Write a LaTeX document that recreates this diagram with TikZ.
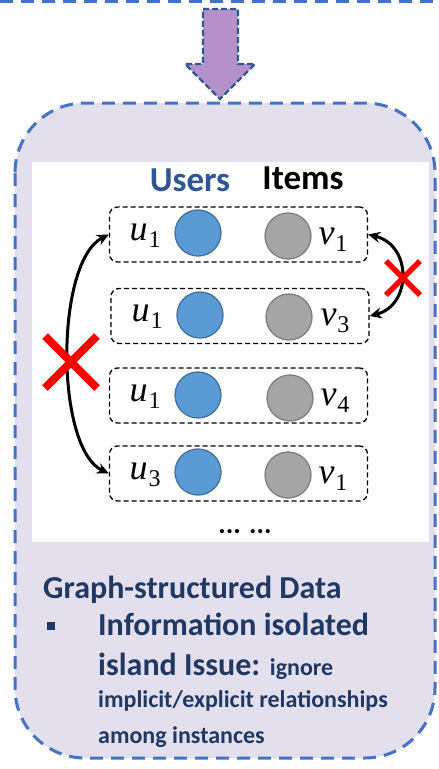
\documentclass[tikz,border=0pt]{standalone}
\usepackage{fontspec}
\setmainfont{Carlito}
\newfontfamily\varfont{Liberation Serif}
\usetikzlibrary{arrows.meta,calc}
\definecolor{lav}{HTML}{E4DFEC}
\definecolor{frameblue}{HTML}{4472C4}
\definecolor{darkblue}{HTML}{2F5597}
\definecolor{navy}{HTML}{203864}
\definecolor{arrowfill}{HTML}{B491C8}
\definecolor{ublue}{HTML}{5B9BD5}
\definecolor{ublueline}{HTML}{41719C}
\definecolor{igray}{HTML}{A5A5A5}
\definecolor{igrayline}{HTML}{7F7F7F}
% italic variable with a lowered index
\newcommand{\var}[2]{{\varfont\itshape #1}\kern1pt\raisebox{-7pt}{\varfont\fontsize{24}{24}\selectfont #2}}
\tikzset{
  framedash/.style={draw=frameblue, line width=3pt, dash pattern=on 13pt off 8pt},
  rowbox/.style={draw=black, line width=1.3pt, dash pattern=on 5pt off 3pt,
    rounded corners=8pt, minimum width=258pt, minimum height=55pt, inner sep=0pt},
  ucirc/.style={circle, fill=ublue, draw=ublueline, line width=1.3pt,
    minimum size=46pt, inner sep=0pt},
  icirc/.style={circle, fill=igray, draw=igrayline, line width=1.3pt,
    minimum size=46pt, inner sep=0pt},
  mlabel/.style={anchor=base, inner sep=0pt, font=\fontsize{36}{40}\selectfont},
  link/.style={line width=3pt, {Stealth[length=12pt,width=11pt]}-{Stealth[length=12pt,width=11pt]}},
  nolink/.style={draw=red, line width=#1},
  bigtext/.style={anchor=base west, inner sep=0pt, text=navy, font=\fontsize{32}{38}\selectfont\bfseries},
  smalltext/.style={anchor=base west, inner sep=0pt, text=navy, font=\fontsize{24}{29}\selectfont\bfseries},
}
\begin{document}
\begin{tikzpicture}[x=1pt,y=-1pt]
\useasboundingbox (0,0) rectangle (439,769);

% upper frame edge
\draw[framedash] (0,1) -- (439,1);

% downward arrow
\filldraw[fill=arrowfill, draw=darkblue, line width=2.2pt, dash pattern=on 6pt off 3pt, line join=miter]
  (203,9) -- (238,9) -- (238,64) -- (255,64) -- (220,99) -- (185,64) -- (203,64) -- cycle;

% panel
\draw[framedash, fill=lav, rounded corners=70pt] (15,103) rectangle (435,758);
\fill[white] (32,162) rectangle (429,542);

% column headings
\node[anchor=base, inner sep=0pt, text=darkblue, font=\fontsize{35}{40}\selectfont\bfseries] (users) at (190,191) {Users};
\node[anchor=base, inner sep=0pt, text=black, font=\fontsize{35}{40}\selectfont\bfseries] (items) at (303,189) {Items};

% user-item pairs
\node[rowbox] (r1) at (238.5,234.5) {};
\node[rowbox] (r2) at (240,316) {};
\node[rowbox] (r3) at (238.5,395.5) {};
\node[rowbox] (r4) at (238.5,473.5) {};

\node[ucirc] (c1u) at (198,233) {};
\node[icirc] (c1i) at (288,236) {};
\node[ucirc] (c2u) at (200,315) {};
\node[icirc] (c2i) at (289,317) {};
\node[ucirc] (c3u) at (198,395) {};
\node[icirc] (c3i) at (290,398) {};
\node[ucirc] (c4u) at (198,472) {};
\node[icirc] (c4i) at (288,475) {};

\node[mlabel] (l1u) at (145,240) {\var{u}{1}};
\node[mlabel] (l1i) at (333,244) {\var{v}{1}};
\node[mlabel] (l2u) at (147,321) {\var{u}{1}};
\node[mlabel] (l2i) at (335,325) {\var{v}{3}};
\node[mlabel] (l3u) at (145,401) {\var{u}{1}};
\node[mlabel] (l3i) at (335,405) {\var{v}{4}};
\node[mlabel] (l4u) at (145,479) {\var{u}{3}};
\node[mlabel] (l4i) at (333,483) {\var{v}{1}};

\node[anchor=base, inner sep=0pt, font=\fontsize{28}{32}\selectfont\bfseries] (dots) at (245,533) {... ...};

% relations between instances
\draw[link] (r1.west) .. controls (55,262) and (55,448) .. (r4.west);
\draw[link] (r1.east) .. controls (412,245) and (412,305) .. (r2.east);

% crosses
\coordinate (xl) at (71,362);
\draw[nolink=8pt] ($(xl)+(-26,-26)$) -- ($(xl)+(26,26)$);
\draw[nolink=8pt] ($(xl)+(-26,26)$) -- ($(xl)+(26,-26)$);
\coordinate (xr) at (403,278);
\draw[nolink=5.5pt] ($(xr)+(-17,-17)$) -- ($(xr)+(17,17)$);
\draw[nolink=5.5pt] ($(xr)+(-17,17)$) -- ($(xr)+(17,-17)$);

% description
\node[bigtext] (head) at (43,598) {Graph-structured Data};
\fill[navy] (47,622) rectangle (55,630);
\node[bigtext] (t1) at (98,635) {Information isolated};
\node[bigtext] (t2) at (98,675) {island Issue: {\fontsize{24}{29}\selectfont ignore}};
\node[smalltext] (t3) at (98,707) {implicit/explicit relationships};
\node[smalltext] (t4) at (98,743) {among instances};
\end{tikzpicture}
\end{document}
